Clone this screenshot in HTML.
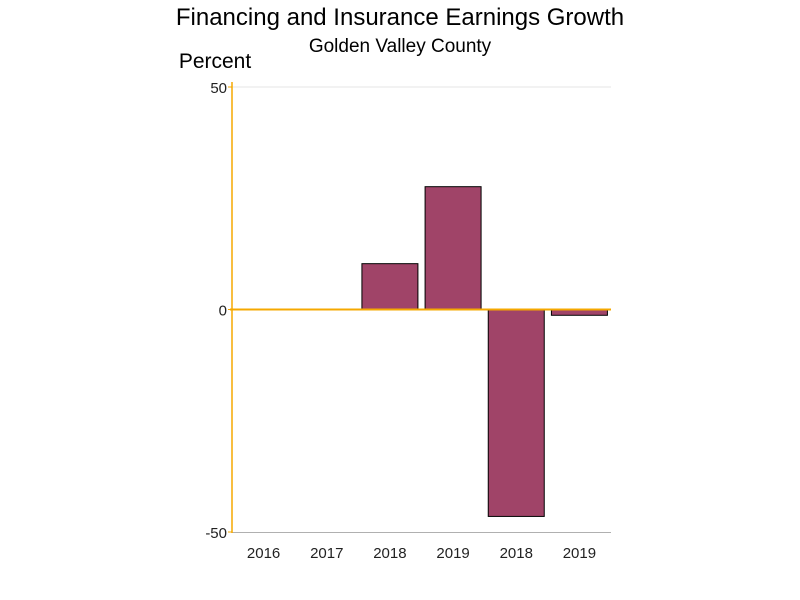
<!DOCTYPE html>
<html><head><meta charset="utf-8"><style>
body{margin:0;background:#fff;}
svg{display:block;font-family:"Liberation Sans","DejaVu Sans",sans-serif;}
</style></head><body>
<svg id="chart" width="800" height="600">
<text x="400" y="25" text-anchor="middle" font-size="24">Financing and Insurance Earnings Growth</text>
<text x="400" y="52" text-anchor="middle" font-size="19">Golden Valley County</text>
<text x="215" y="68" text-anchor="middle" font-size="21">Percent</text>
<g id="g"></g>
</svg>
<script>
const categories=["2016","2017","2018","2019","2018","2019"];
const values=[0,0,10.3,27.6,-46.5,-1.3];
const yTicks=[50,0,-50];
const X0=232,X1=611,Y50=87,Ym50=532;
const ns="http://www.w3.org/2000/svg";
const g=document.getElementById('g');
function y(v){return Y50+(50-v)*(Ym50-Y50)/100;}
const step=(X1-X0)/categories.length;
function x(i){return X0+step*(i+0.5);}
function mk(t,a){const e=document.createElementNS(ns,t);for(const k in a)e.setAttribute(k,a[k]);g.appendChild(e);return e;}
let e=mk('line',{x1:X0,x2:X1,y1:y(50),y2:y(50),stroke:'#e4e4e4'});


e=mk('line',{x1:X0,x2:X1,y1:Ym50+0.5,y2:Ym50+0.5,stroke:'#b0b0b0'});


yTicks.forEach(v=>{
 let t=mk('text',{x:227,y:y(v)+6,'text-anchor':'end','font-size':15,fill:'#222'});t.textContent=v;
 
 
 let l=mk('line',{x1:228,x2:X0,y1:y(v),y2:y(v),stroke:'#f5a800'});
 
 
});
const bw=56;
values.forEach((v,i)=>{
 if(v!==0){
 let r=mk('rect',{x:x(i)-bw/2,y:Math.min(y(v),y(0)),width:bw,height:Math.abs(y(v)-y(0)),fill:'#a04468',stroke:'#000','stroke-width':1});
 
 
 }
 let t=mk('text',{x:x(i),y:558,'text-anchor':'middle','font-size':15,fill:'#222'});t.textContent=categories[i];
 
 
});
e=mk('line',{x1:X0-2,x2:X1,y1:y(0),y2:y(0),stroke:'#f5a800','stroke-width':2});


e=mk('line',{x1:X0,x2:X0,y1:82,y2:Ym50+1,stroke:'#f5a800','stroke-width':1.5});


</script>
</body></html>
